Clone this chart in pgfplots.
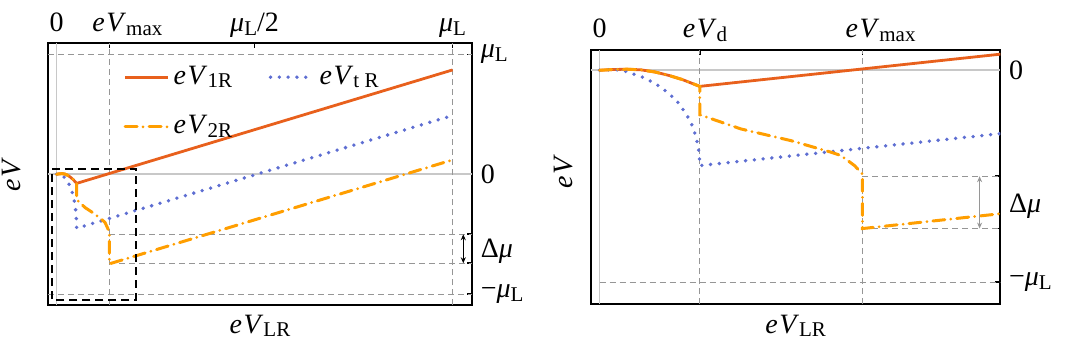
\documentclass[border=0pt]{standalone}
\usepackage{fontspec}
\setmainfont{Liberation Serif}
\usepackage{pgfplots}
\pgfplotsset{compat=1.18}
\usepackage{pgfplotstable}
\usetikzlibrary{arrows.meta}

\definecolor{cOne}{RGB}{232,96,28}
\definecolor{cTwo}{RGB}{255,158,0}
\definecolor{cT}{RGB}{94,110,210}
\definecolor{gridg}{RGB}{150,150,150}
\definecolor{zerog}{RGB}{200,200,200}

\newcommand{\fnt}{\fontsize{14}{16}\selectfont}
\newcommand{\sbs}[1]{\raisebox{-1.8pt}{\fontsize{10.5}{11}\selectfont #1}}
\newcommand{\eV}{\textit{e\kern0.8pt V}}
\newcommand{\muL}{\textit{μ}\sbs{L}}

\pgfplotstableread{
x y
0 0
0.007 0.0035
0.014 0.005
0.021 0.002
0.028 -0.008
0.035 -0.024
0.042 -0.044
0.0508 -0.076
1.0 0.87
}\oneR

\pgfplotstableread{
x y
0 0
0.006 0.003
0.0114 0.001
0.0165 -0.016
0.0216 -0.032
0.0267 -0.055
0.0309 -0.079
0.0351 -0.11
0.039 -0.142
0.0419 -0.179
0.0448 -0.221
0.047 -0.261
0.0487 -0.308
0.0499 -0.355
0.0506 -0.403
0.0508 -0.45
1.0 0.49
}\tR

\pgfplotstableread{
x y
0 0
0.007 0.0035
0.014 0.005
0.021 0.002
0.028 -0.008
0.035 -0.024
0.042 -0.044
0.0508 -0.076
0.0508 -0.21
0.0717 -0.277
0.097 -0.332
0.1175 -0.387
0.1225 -0.403
0.1293 -0.45
0.1333 -0.49
0.1333 -0.747
1.0 0.12
}\twoR

\pgfplotsset{
  myax/.style={
    scale only axis,
    font=\fnt,
    tick label style={font=\fnt},
    label style={font=\fnt},
    axis line style={line width=1pt},
    tick align=inside,
    major tick length=2.5pt,
    tick style={black, line width=0.8pt},
    xtick pos=right, xticklabel pos=right,
    ytick pos=right, yticklabel pos=right,
    xticklabel style={anchor=base, yshift=5.8pt, inner sep=0pt},
    yticklabel style={anchor=west, inner sep=0pt, xshift=4.2pt},
    clip mode=individual,
  },
  sOne/.style={cOne, line width=1.4pt, line join=round},
  sT/.style={cT, line width=1.9pt, line cap=round, dash pattern=on 0pt off 4.4pt},
  sTwo/.style={cTwo, line width=1.5pt, line cap=round, dash pattern=on 6pt off 3pt on 0pt off 3pt},
  gdash/.style={gridg, line width=0.5pt, dash pattern=on 3pt off 2pt, forget plot},
  gzero/.style={zerog, line width=0.9pt, forget plot},
}

\begin{document}
\fnt
\begin{tikzpicture}[font=\fnt]
\useasboundingbox (0,0) rectangle (532.5pt,179.5pt);

% ---------------- left panel ----------------
\begin{axis}[myax,
  at={(24pt,27pt)}, anchor=south west,
  width=212pt, height=130.85pt,
  xmin=-0.0215, xmax=1.049, ymin=-1.09, ymax=1.092,
  xtick={0,0.1333,0.5,1},
  xticklabels={0,{\eV\rlap{\sbs{max}}},{\muL/2},{\muL}},
  ytick={-1,-0.742,-0.5,0,1},
  yticklabels={{−\muL},{},{},0,{\muL}},
  xlabel={\eV\sbs{LR}},
  xlabel style={at={(axis description cs:0.5,-0.108)}, anchor=base},
  ylabel={\eV},
  ylabel style={at={(axis description cs:-0.066,0.5)}, anchor=base, rotate=0},
  legend columns=2,
  legend style={draw=none, fill=none, font=\fnt, at={(axis description cs:0.163,0.948)}, anchor=north west,
    nodes={inner sep=2.3pt, anchor=west}, row sep=9pt,
    /tikz/every even column/.append style={column sep=16pt}},
  legend image code/.code={\draw[#1] (0pt,0pt) -- (21.3pt,0pt);},
]
\addplot[gzero] coordinates {(-0.0215,0) (1.049,0)};
\addplot[gzero] coordinates {(0,-1.09) (0,1.092)};
\addplot[gdash] coordinates {(0.1333,-1.09) (0.1333,1.092)};
\addplot[gdash] coordinates {(1,-1.09) (1,1.092)};
\addplot[gdash] coordinates {(-0.0215,1) (1.049,1)};
\addplot[gdash] coordinates {(-0.0215,-1) (1.049,-1)};
\addplot[gdash] coordinates {(0.1333,-0.5) (1.049,-0.5)};
\addplot[gdash] coordinates {(0.1333,-0.742) (1.049,-0.742)};

\addplot[sOne] table[x=x,y=y] {\oneR};
\addlegendentry{\eV\sbs{1R}}
\addplot[sT] table[x=x,y=y] {\tR};
\addlegendentry{\eV\sbs{t R}}
\addplot[sTwo] table[x=x,y=y] {\twoR};
\addlegendentry{\eV\sbs{2R}}

\addplot[black, line width=1pt, dash pattern=on 4pt off 2.5pt, forget plot]
  coordinates {(-0.011,0.042) (0.2007,0.042) (0.2007,-1.047) (-0.011,-1.047) (-0.011,0.042)};

\draw[black, line width=0.5pt, {Stealth[length=3pt,width=2.5pt]}-{Stealth[length=3pt,width=2.5pt]}]
  (axis cs:1.027,-0.5) -- (axis cs:1.027,-0.742);
\node[anchor=west, inner sep=0pt, xshift=4.2pt, font=\fnt] at (axis cs:1.049,-0.64) {Δ\textit{μ}};
\end{axis}

% ---------------- right panel ----------------
\begin{axis}[myax,
  at={(295.45pt,27.5pt)}, anchor=south west,
  width=204.7pt, height=127.25pt,
  xmin=-0.0044, xmax=0.2032, ymin=-1.103, ymax=0.098,
  xtick={0,0.0508,0.1333},
  xticklabels={0,{\eV\rlap{\sbs{d}}},{\eV\rlap{\sbs{max}}}},
  ytick={-1,-0.747,-0.5,0},
  yticklabels={{−\muL},{},{},0},
  xlabel={\eV\sbs{LR}},
  xlabel style={at={(axis description cs:0.5,-0.115)}, anchor=base},
  ylabel={\eV},
  ylabel style={at={(axis description cs:-0.044,0.52)}, anchor=base, rotate=0},
]
\addplot[gzero] coordinates {(-0.0044,0) (0.2032,0)};
\addplot[gzero] coordinates {(0,-1.103) (0,0.098)};
\addplot[gdash] coordinates {(0.0508,-1.103) (0.0508,0.098)};
\addplot[gdash] coordinates {(0.1333,-1.103) (0.1333,0.098)};
\addplot[gdash] coordinates {(0,-1) (0.2032,-1)};
\addplot[gdash] coordinates {(0.1333,-0.5) (0.2032,-0.5)};
\addplot[gdash] coordinates {(0.1333,-0.747) (0.2032,-0.747)};
\end{axis}
\begin{axis}[myax,
  at={(295.45pt,27.5pt)}, anchor=south west,
  width=204.7pt, height=127.25pt,
  xmin=-0.0044, xmax=0.2032, ymin=-1.103, ymax=0.098,
  axis lines=none, clip=true, clip mode=global,
]
\addplot[sOne] table[x=x,y=y] {\oneR};
\addplot[sT] table[x=x,y=y] {\tR};
\addplot[sTwo] table[x=x,y=y] {\twoR};
\end{axis}
\begin{axis}[myax,
  at={(295.45pt,27.5pt)}, anchor=south west,
  width=204.7pt, height=127.25pt,
  xmin=-0.0044, xmax=0.2032, ymin=-1.103, ymax=0.098,
  axis lines=none,
]
\draw[gridg, line width=0.6pt, {Stealth[length=3pt,width=2.5pt]}-{Stealth[length=3pt,width=2.5pt]}]
  (axis cs:0.1927,-0.5) -- (axis cs:0.1927,-0.747);
\node[anchor=west, inner sep=0pt, xshift=4.2pt, font=\fnt] at (axis cs:0.2032,-0.64) {Δ\textit{μ}};
\end{axis}
\end{tikzpicture}
\end{document}
